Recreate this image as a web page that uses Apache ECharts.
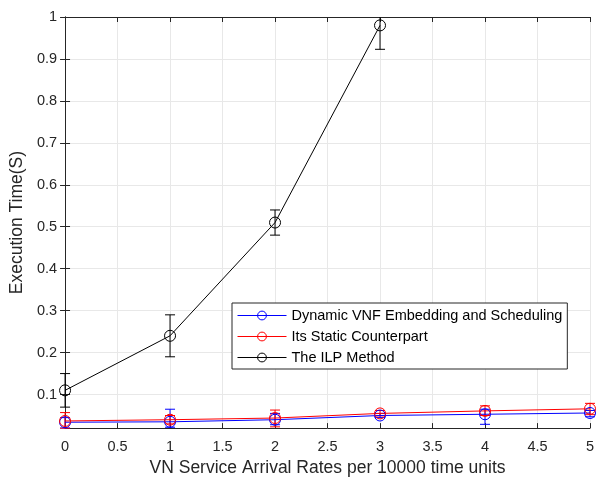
<!DOCTYPE html>
<html>
<head>
<meta charset="utf-8">
<script src="https://cdn.jsdelivr.net/npm/echarts@6/dist/echarts.min.js"></script>
<style>html,body{margin:0;padding:0;background:#fff;}#c{width:598px;height:482px;}</style>
</head>
<body>
<div id="c"></div>
<script>
const xValues = [0, 1, 2, 3, 4, 5];
const dynamicMean = [0.034, 0.035, 0.040, 0.050, 0.053, 0.056];
const dynamicLow  = [0.020, 0.022, 0.028, 0.045, 0.029, 0.047];
const dynamicHigh = [0.045, 0.065, 0.055, 0.055, 0.065, 0.062];
const staticMean  = [0.037, 0.040, 0.044, 0.055, 0.061, 0.066];
const staticLow   = [0.020, 0.030, 0.023, 0.049, 0.050, 0.052];
const staticHigh  = [0.057, 0.050, 0.063, 0.062, 0.073, 0.079];
const ilpX    = [0, 1, 2, 3];
const ilpMean = [0.11, 0.24, 0.51, 0.98];
const ilpLow  = [0.07, 0.19, 0.48, 0.923];
const ilpHigh = [0.15, 0.29, 0.54, 1.04];
const yTicks = [0.1, 0.2, 0.3, 0.4, 0.5, 0.6, 0.7, 0.8, 0.9, 1];
const names = ['Dynamic VNF Embedding and Scheduling', 'Its Static Counterpart', 'The ILP Method'];
const colors = ['#0000ff', '#ff0000', '#000000'];

const FONT = 'Liberation Sans, Arial, Helvetica, sans-serif';

function errData(xs, lo, hi) { return xs.map((x, i) => [x, lo[i], hi[i]]); }
function errSeries(name, color, data) {
  return {
    type: 'custom', name: name + ' err', silent: true, z: 3,
    renderItem: function (params, api) {
      const x = api.value(0);
      const p1 = api.coord([x, api.value(1)]);
      const p2 = api.coord([x, api.value(2)]);
      const hw = 5;
      const cs = params.coordSys;
      const clip = (y) => Math.max(cs.y, Math.min(cs.y + cs.height, y));
      const children = [
        { type: 'line', shape: { x1: p1[0], y1: clip(p1[1]), x2: p2[0], y2: clip(p2[1]) }, style: { stroke: color, lineWidth: 1 } }
      ];
      [p1, p2].forEach(p => {
        if (p[1] >= cs.y - 0.5 && p[1] <= cs.y + cs.height + 0.5) {
          children.push({ type: 'line', shape: { x1: p[0] - hw, y1: p[1], x2: p[0] + hw, y2: p[1] }, style: { stroke: color, lineWidth: 1 } });
        }
      });
      return { type: 'group', children: children };
    },
    data: data
  };
}
function lineSeries(name, color, xs, ys) {
  return {
    type: 'line', name: name, z: 4,
    data: xs.map((x, i) => [x, ys[i]]),
    symbol: 'circle', symbolSize: 11,
    itemStyle: { color: 'rgba(0,0,0,0)', borderColor: color, borderWidth: 1 },
    lineStyle: { color: color, width: 1 },
    emphasis: { disabled: true }
  };
}

const chart = echarts.init(document.getElementById('c'));
const tickColor = '#262626';
const axisLine = { show: true, lineStyle: { color: '#262626', width: 1 } };
chart.setOption({
  animation: false,
  backgroundColor: '#fff',
  grid: { left: 64, right: 8, top: 17, bottom: 49, containLabel: false },
  xAxis: [{
    type: 'value', min: 0, max: 5, interval: 0.5,
    name: 'VN Service Arrival Rates per 10000 time units',
    nameLocation: 'middle', nameGap: 25,
    nameTextStyle: { fontFamily: FONT, fontSize: 17.5, color: tickColor, verticalAlign: 'top' },
    axisLine: axisLine,
    axisTick: { inside: true, length: 5, lineStyle: { color: tickColor } },
    axisLabel: { fontFamily: FONT, fontSize: 14.5, color: tickColor, margin: 11 },
    splitLine: { show: true, lineStyle: { color: '#e8e8e8', width: 1 } }
  }, {
    type: 'value', min: 0, max: 5, interval: 0.5, position: 'top',
    axisLine: axisLine,
    axisTick: { inside: true, length: 5, lineStyle: { color: tickColor } },
    axisLabel: { show: false }, splitLine: { show: false }
  }],
  yAxis: [{
    type: 'value', min: 0.02, max: 1,
    name: 'Execution Time(S)',
    nameLocation: 'middle', nameGap: 32,
    nameTextStyle: { fontFamily: FONT, fontSize: 17.5, color: tickColor },
    axisLine: axisLine,
    axisTick: { inside: true, length: 5, customValues: yTicks, lineStyle: { color: tickColor } },
    axisLabel: { fontFamily: FONT, fontSize: 14.5, color: tickColor, margin: 8, customValues: yTicks },
    splitLine: { show: true, lineStyle: { color: '#e8e8e8', width: 1 } }
  }, {
    type: 'value', min: 0.02, max: 1, position: 'right',
    axisLine: axisLine,
    axisTick: { inside: true, length: 5, customValues: yTicks, lineStyle: { color: tickColor } },
    axisLabel: { show: false, customValues: yTicks }, splitLine: { show: false }
  }],
  legend: {
    data: names,
    orient: 'vertical', left: 232, top: 303,
    itemWidth: 49, itemHeight: 11, itemGap: 6,
    padding: [5, 5, 4, 5],
    backgroundColor: '#fff', borderColor: '#262626', borderWidth: 1, borderRadius: 0,
    itemStyle: { borderWidth: 1 },
    lineStyle: { width: 1 },
    textStyle: { fontFamily: FONT, fontSize: 14.5, color: '#000', padding: [0, 0, 0, 0] },
    selectedMode: false
  },
  series: [
    errSeries(names[0], colors[0], errData(xValues, dynamicLow, dynamicHigh)),
    lineSeries(names[0], colors[0], xValues, dynamicMean),
    errSeries(names[1], colors[1], errData(xValues, staticLow, staticHigh)),
    lineSeries(names[1], colors[1], xValues, staticMean),
    errSeries(names[2], colors[2], errData(ilpX, ilpLow, ilpHigh)),
    lineSeries(names[2], colors[2], ilpX, ilpMean)
  ]
});
</script>
</body>
</html>
